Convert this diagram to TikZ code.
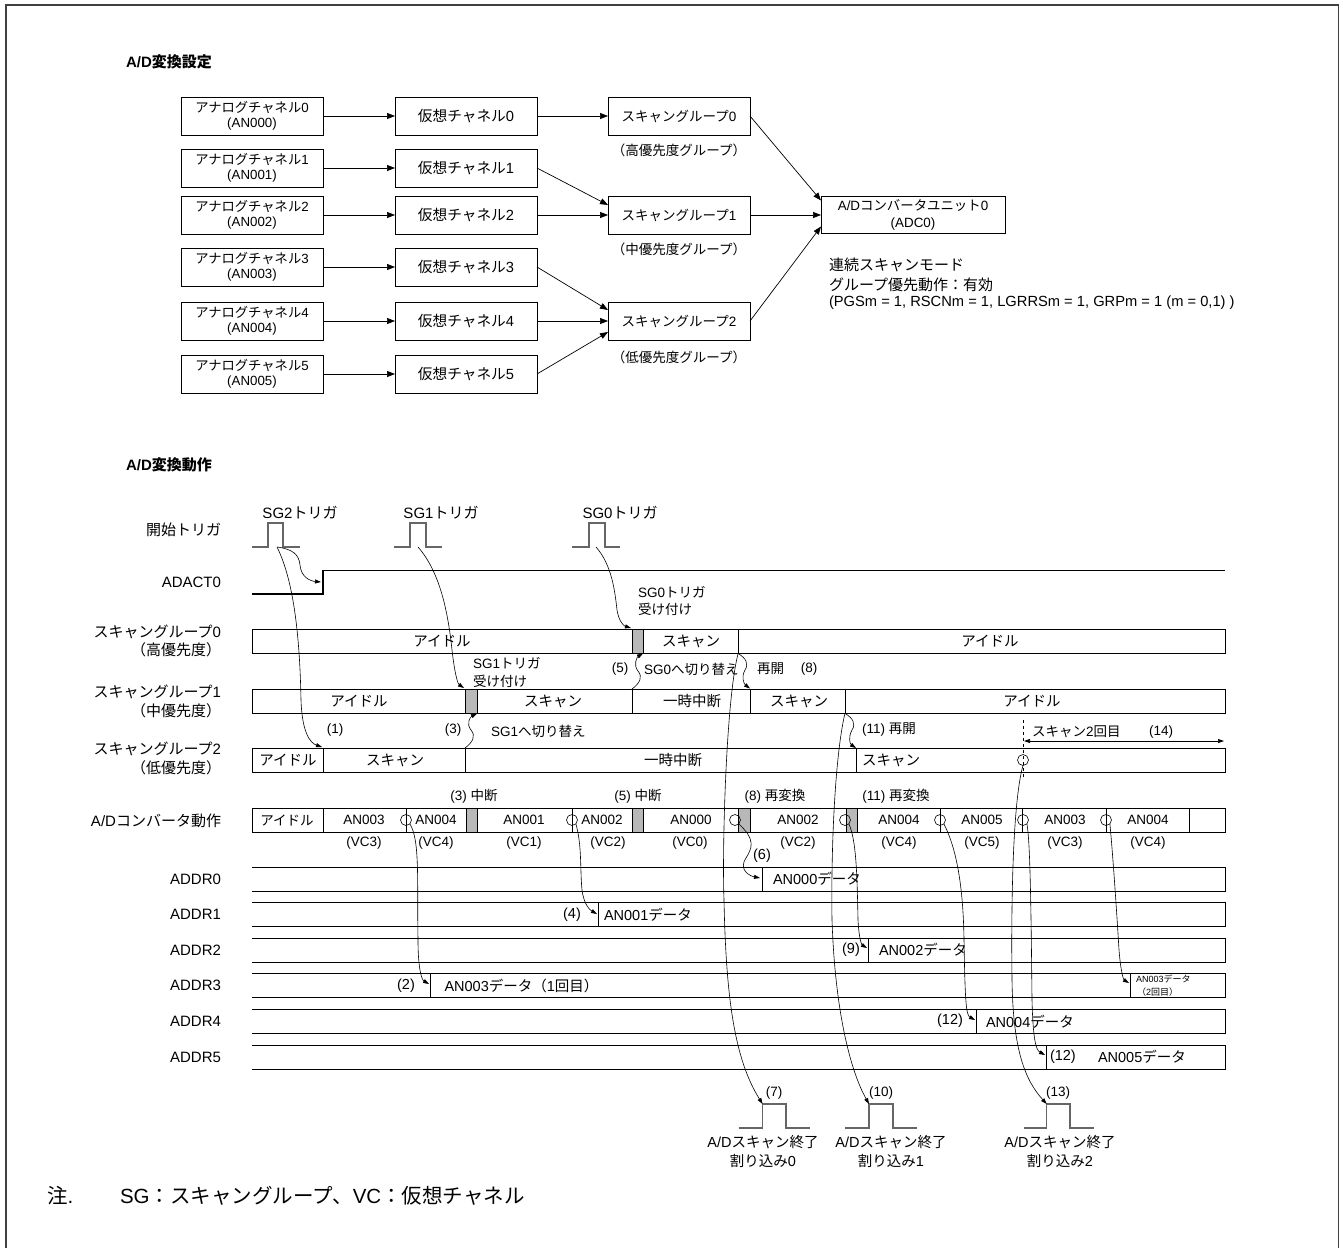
\documentclass[tikz,border=0pt]{standalone}
\usepackage{fontspec}
\setmainfont{Liberation Sans}
\newfontfamily\jpf{Noto Sans CJK JP}
\newXeTeXintercharclass\JPc
\makeatletter
\def\setjprange#1#2{\count@=#1\relax\loop\XeTeXcharclass\count@=\JPc\ifnum\count@<#2\advance\count@\@ne\repeat}
\makeatother
\setjprange{"3000}{"30FF}
\setjprange{"4E00}{"9FFF}
\setjprange{"FF00}{"FFEF}
\XeTeXinterchartoks 0 \JPc = {\jpf}
\XeTeXinterchartoks 4095 \JPc = {\jpf}
\XeTeXinterchartoks \JPc 0 = {\rmfamily}
\XeTeXinterchartoks \JPc 4095 = {\rmfamily}
\XeTeXinterchartokenstate=1
\usetikzlibrary{arrows.meta}
\newcommand\myfs[2]{\fontsize{#1}{#2}\selectfont}
\begin{document}
\begin{tikzpicture}[x=1pt,y=-1pt,
  every node/.style={inner sep=0pt, outer sep=0pt, font=\myfs{13.5}{16}},
  blk/.style={draw, line width=0.8pt, fill=white, minimum width=142pt, minimum height=38pt, align=center},
  arr/.style={line width=0.7pt, -{Triangle[length=8pt,width=6pt]}},
  sarr/.style={line width=0.6pt, -{Triangle[length=6pt,width=4pt]}},
  lbl/.style={anchor=east, font=\myfs{15}{17}},
  rtxt/.style={font=\myfs{14.5}{16}},
  atxt/.style={font=\myfs{13.5}{16}},
  dtx/.style={anchor=west, font=\myfs{14.5}{17}},
  lft/.style={anchor=west},
  wave/.style={line width=1pt},
  pls/.style={draw=black!60, line width=1.5pt},
  gblk/.style={draw, line width=0.8pt, fill=black!28},
  cir/.style={draw, circle, minimum size=11pt, line width=0.6pt},
]
\useasboundingbox (0,0) rectangle (1343,1247);
\draw[black!75, line width=1.8pt] (6,1250) -- (6,5) -- (1338.5,5) -- (1338.5,1250);

% ---------------- A/D setting ----------------
\node[lft, font=\bfseries\myfs{15}{17}] (title1) at (126,62) {A/D変換設定};
\foreach \i/\yy in {0/116,1/168,2/215,3/267,4/321,5/374} {
  \node[blk, font=\myfs{13.3}{15.5}] (a\i) at (252,\yy) {アナログチャネル\i\\(AN00\i)};
  \node[blk, font=\myfs{14.7}{17}] (v\i) at (466,\yy) {仮想チャネル\i};
  \draw[arr] (a\i) -- (v\i);
}
\node[blk] (s0) at (679,116) {スキャングループ0};
\node[blk] (s1) at (679,215) {スキャングループ1};
\node[blk] (s2) at (679,321) {スキャングループ2};
\node (g0) at (679,150) {（高優先度グループ）};
\node (g1) at (679,249) {（中優先度グループ）};
\node (g2) at (679,357) {（低優先度グループ）};
\node[blk, minimum width=184pt, minimum height=37pt, font=\myfs{13.4}{17}] (adc) at (913,214.5) {A/Dコンバータユニット0\\(ADC0)};
\draw[arr] (v0) -- (s0);
\draw[arr] (v1.east) -- ([yshift=10pt]s1.west);
\draw[arr] (v2) -- (s1);
\draw[arr] (v3.east) -- ([yshift=11pt]s2.west);
\draw[arr] (v4) -- (s2);
\draw[arr] (v5.east) -- ([yshift=-11pt]s2.west);
\draw[arr] (s0.east) -- ([yshift=14pt]adc.west);
\draw[arr] (s1.east) -- (s1.east -| adc.west);
\draw[arr] (s2.east) -- ([yshift=-12pt]adc.west);
\node[lft, font=\myfs{15}{17}] (m1) at (829,265) {連続スキャンモード};
\node[lft, font=\myfs{15}{17}] (m2) at (829,285) {グループ優先動作：有効};
\node[lft, font=\myfs{14.7}{17}] (m3) at (829,303) {(PGSm = 1, RSCNm = 1, LGRRSm = 1, GRPm = 1 (m = 0,1) )};

% ---------------- A/D operation ----------------
\node[lft, font=\bfseries\myfs{15}{17}] (title2) at (126,465) {A/D変換動作};

% left labels
\node[lbl] (l0) at (221,530) {開始トリガ};
\node[lbl] (l1) at (221,582) {ADACT0};
\node[lbl] (l2) at (221,632) {スキャングループ0};
\node[lbl] (l2b) at (221,650) {（高優先度）};
\node[lbl] (l3) at (221,692) {スキャングループ1};
\node[lbl] (l3b) at (221,711) {（中優先度）};
\node[lbl] (l4) at (221,749) {スキャングループ2};
\node[lbl] (l4b) at (221,768) {（低優先度）};
\node[lbl] (l5) at (221,821) {A/Dコンバータ動作};
\node[lbl] (r0) at (221,879) {ADDR0};
\node[lbl] (r1) at (221,914.6) {ADDR1};
\node[lbl] (r2) at (221,950.2) {ADDR2};
\node[lbl] (r3) at (221,985.8) {ADDR3};
\node[lbl] (r4) at (221,1021.4) {ADDR4};
\node[lbl] (r5) at (221,1057) {ADDR5};

% trigger pulses
\node[font=\myfs{15}{17}] (tg2) at (300,513) {SG2トリガ};
\node[font=\myfs{15}{17}] (tg1) at (441,513) {SG1トリガ};
\node[font=\myfs{15}{17}] (tg0) at (620,513) {SG0トリガ};
\draw[pls] (252,547) -- (268,547) -- (268,523) -- (283,523) -- (283,547) -- (300,547);
\draw[pls] (394,547) -- (410,547) -- (410,523) -- (426,523) -- (426,547) -- (442,547);
\draw[pls] (572,547) -- (589,547) -- (589,523) -- (605,523) -- (605,547) -- (620,547);

% ADACT0
\draw[line width=1.1pt] (252,594) -- (323,594) -- (323,570.5) -- (1225,570.5);

% scan group 0
\draw[wave] (252,629) rectangle (1225,653);
\draw[gblk] (632,629) rectangle (643,653);
\draw[wave] (738,629) -- (738,653);
\node[rtxt] (q0a) at (442,641) {アイドル};
\node[rtxt] (q0b) at (691,641) {スキャン};
\node[rtxt] (q0c) at (990,641) {アイドル};
% scan group 1
\draw[wave] (252,689) rectangle (1225,713);
\draw[gblk] (465,689) rectangle (477,713);
\draw[wave] (632,689) -- (632,713) (750,689) -- (750,713) (845,689) -- (845,713);
\node[rtxt] (q1a) at (359,701) {アイドル};
\node[rtxt] (q1b) at (553,701) {スキャン};
\node[rtxt] (q1c) at (692,701) {一時中断};
\node[rtxt] (q1d) at (799,701) {スキャン};
\node[rtxt] (q1e) at (1032,701) {アイドル};
% scan group 2
\draw[wave] (252,748) rectangle (1225,772);
\draw[wave] (323,748) -- (323,772) (465,748) -- (465,772) (856,748) -- (856,772);
\node[rtxt] (q2a) at (288,760) {アイドル};
\node[rtxt] (q2b) at (395,760) {スキャン};
\node[rtxt] (q2c) at (673,760) {一時中断};
\node[rtxt] (q2d) at (891,760) {スキャン};
\draw[dashed, line width=0.6pt] (1023,720) -- (1023,778);
\node[cir] (c14) at (1023,760) {};

% annotations in timing area
\node[lft, atxt] (n0a) at (638,592) {SG0トリガ};
\node[lft, atxt] (n0b) at (638,609) {受け付け};
\node[lft, atxt] (n1a) at (473,663) {SG1トリガ};
\node[lft, atxt] (n1b) at (473,681) {受け付け};
\node[atxt] (k5) at (620,669) {(5)};
\node[lft, atxt] (k5t) at (644,669) {SG0へ切り替え};
\node[lft, atxt] (k8t) at (757,669) {再開};
\node[atxt] (k8) at (809,669) {(8)};
\node[atxt] (k1) at (335,730) {(1)};
\node[atxt] (k3) at (453,730) {(3)};
\node[lft, atxt] (k3t) at (491,731) {SG1へ切り替え};
\node[lft, atxt] (k11) at (862,730) {(11) 再開};
\node[lft, atxt] (k14) at (1032,732) {スキャン2回目};
\node[atxt] (k14n) at (1161,732) {(14)};
\coordinate (d14a) at (1024,741);
\coordinate (d14b) at (1224,741);
\draw[line width=0.7pt, {Triangle[length=6pt,width=4pt]}-{Triangle[length=6pt,width=4pt]}] (d14a) -- (d14b);

% curves from triggers
\coordinate (p2) at (277,547);
\coordinate (p1) at (418,547);
\coordinate (p0) at (596,547);
\coordinate (adr) at (321,582);
\coordinate (sg2st) at (322,747);
\coordinate (sg1g) at (464,688);
\coordinate (sg0g) at (631,628);
\draw[sarr] (p2) .. controls (292,549) and (299,554) .. (300,565) .. controls (301,577) and (310,581) .. (adr);
\draw[sarr] (p2) .. controls (296,585) and (300,650) .. (301,700) .. controls (302,732) and (310,743) .. (sg2st);
\draw[sarr] (p1) .. controls (440,572) and (448,612) .. (452,650) .. controls (455,676) and (458,684) .. (sg1g);
\draw[sarr] (p0) .. controls (612,565) and (615,592) .. (617,610) .. controls (619,622) and (624,626) .. (sg0g);
% wavy switches
\draw[sarr] (465,748) .. controls (473,742) and (476,736) .. (471,730) .. controls (466,724) and (470,717) .. (477,713.5);
\draw[sarr] (632,689) .. controls (640,683) and (643,677) .. (638,671) .. controls (633,665) and (637,657) .. (643,653.5);
\draw[sarr] (738,653.5) .. controls (746,658) and (749,664) .. (745,670) .. controls (741,677) and (744,684) .. (750,688.5);
\draw[sarr] (845,713.5) .. controls (853,718) and (856,724) .. (852,730) .. controls (848,737) and (850,744) .. (856,748);

% A/D converter row
\node[atxt] (h3) at (474,796) {(3) 中断};
\node[atxt] (h5) at (638,796) {(5) 中断};
\node[atxt] (h8) at (775,796) {(8) 再変換};
\node[atxt] (h11) at (896,796) {(11) 再変換};
\draw[wave] (252,808) rectangle (1225,832);
\foreach \xx in {323,406,572,940,1022.5,1106,1189} {\draw[wave] (\xx,808) -- (\xx,832);}
\draw[gblk] (466,808) rectangle (477,832);
\draw[gblk] (632,808) rectangle (643,832);
\draw[gblk] (738.5,808) rectangle (750,832);
\draw[gblk] (846,808) rectangle (857,832);
\node[atxt] (b0) at (287,820) {アイドル};
\node[atxt] (b1) at (364,820) {AN003};
\node[atxt] (b2) at (436,820) {AN004};
\node[atxt] (b3) at (524,820) {AN001};
\node[atxt] (b4) at (602,820) {AN002};
\node[atxt] (b5) at (691,820) {AN000};
\node[atxt] (b6) at (798,820) {AN002};
\node[atxt] (b7) at (899,820) {AN004};
\node[atxt] (b8) at (982,820) {AN005};
\node[atxt] (b9) at (1065,820) {AN003};
\node[atxt] (b10) at (1148,820) {AN004};
\node[cir] (o1) at (406,820) {};
\node[cir] (o2) at (572,820) {};
\node[cir] (o3) at (735,820) {};
\node[cir] (o4) at (845,820) {};
\node[cir] (o5) at (940,820) {};
\node[cir] (o6) at (1023,820) {};
\node[cir] (o7) at (1106,820) {};
\node[atxt] (vc1) at (364,843) {(VC3)};
\node[atxt] (vc2) at (436,843) {(VC4)};
\node[atxt] (vc3) at (524,843) {(VC1)};
\node[atxt] (vc4) at (608,843) {(VC2)};
\node[atxt] (vc5) at (690,843) {(VC0)};
\node[atxt] (vc6) at (798,843) {(VC2)};
\node[atxt] (vc7) at (899,843) {(VC4)};
\node[atxt] (vc8) at (982,843) {(VC5)};
\node[atxt] (vc9) at (1065,843) {(VC3)};
\node[atxt] (vc10) at (1148,843) {(VC4)};

% ADDR rows
\foreach \tt in {867,902.6,938.2,973.8,1009.4,1045} {
  \draw[wave] (252,\tt) -- (1225,\tt) -- (1225,\tt+24) -- (252,\tt+24);
}
\draw[wave] (762,867) -- (762,891);
\draw[wave] (598,902.6) -- (598,926.6);
\draw[wave] (868,938.2) -- (868,962.2);
\draw[wave] (430.6,973.8) -- (430.6,997.8) (1130,973.8) -- (1130,997.8);
\draw[wave] (976,1009.4) -- (976,1033.4);
\draw[wave] (1046,1045) -- (1046,1069);
\node[dtx] (e0) at (773,879) {AN000データ};
\node[dtx] (e1) at (604,914.6) {AN001データ};
\node[dtx] (e2) at (879,950.2) {AN002データ};
\node[dtx] (e3) at (444.5,985.8) {AN003データ（1回目）};
\node[lft, font=\myfs{9}{11}] (e3b) at (1136,979) {AN003データ};
\node[lft, font=\myfs{9}{11}] (e3c) at (1137,992) {（2回目）};
\node[dtx] (e4) at (986,1021.4) {AN004データ};
\node[dtx] (e5n) at (1050,1057) {(12)};
\node[dtx] (e5) at (1098,1057) {AN005データ};
\node[rtxt] (j2) at (406,986) {(2)};
\node[rtxt] (j4) at (572,915) {(4)};
\node[rtxt] (j6) at (762,856) {(6)};
\node[rtxt] (j9) at (851,950) {(9)};
\node[rtxt] (j12) at (950,1021) {(12)};

% data arrows
\draw[sarr] (o1.south east) .. controls (420,840) and (417,880) .. (418,940) .. controls (418,970) and (422,980) .. (429,984);
\draw[sarr] (o2.south east) .. controls (582,845) and (580,870) .. (582,890) .. controls (584,905) and (590,910) .. (597,914);
\draw[sarr] (o3.south east) .. controls (756,840) and (752,848) .. (746,858) .. controls (738,870) and (750,876) .. (760,878);
\draw[sarr] (o4.south east) .. controls (856,840) and (857,870) .. (858,920) .. controls (859,940) and (862,945) .. (867,948);
\draw[sarr] (o5.south east) .. controls (952,840) and (963,870) .. (964,940) .. controls (965,1000) and (966,1015) .. (975,1020);
\draw[sarr] (o6.south east) .. controls (1030,840) and (1031,900) .. (1032,1000) .. controls (1033,1040) and (1036,1050) .. (1045,1055);
\draw[sarr] (o7.south east) .. controls (1112,845) and (1116,900) .. (1119,950) .. controls (1121,975) and (1124,980) .. (1129,983);

% interrupts
\draw[pls] (738.5,1128) -- (762.6,1128) -- (762.6,1104) -- (786,1104) -- (786,1128) -- (810,1128);
\draw[pls] (845,1128) -- (869,1128) -- (869,1104) -- (893,1104) -- (893,1128) -- (917,1128);
\draw[pls] (1023.7,1128) -- (1046.7,1128) -- (1046.7,1104) -- (1070,1104) -- (1070,1128) -- (1094,1128);
\coordinate (i0) at (762.6,1104);
\coordinate (i1) at (869,1104);
\coordinate (i2) at (1046.7,1104);
\coordinate (sg0end) at (738,654);
\coordinate (sg1end) at (845,713);
\draw[sarr] (sg0end) .. controls (726,700) and (722,850) .. (724,900) .. controls (726,1000) and (735,1060) .. (i0);
\draw[sarr] (sg1end) .. controls (834,760) and (831,860) .. (832,920) .. controls (835,1010) and (850,1070) .. (i1);
\draw[sarr] (c14.south) .. controls (1013,800) and (1011,900) .. (1012,980) .. controls (1013,1050) and (1025,1080) .. (i2);
\node[atxt] (u0) at (774,1093) {(7)};
\node[atxt] (u1) at (881,1093) {(10)};
\node[atxt] (u2) at (1058,1093) {(13)};
\node[align=center, font=\myfs{14.5}{19}] (w0) at (763,1151) {A/Dスキャン終了\\割り込み0};
\node[align=center, font=\myfs{14.5}{19}] (w1) at (891,1151) {A/Dスキャン終了\\割り込み1};
\node[align=center, font=\myfs{14.5}{19}] (w2) at (1060,1151) {A/Dスキャン終了\\割り込み2};

% note
\node[lft, font=\myfs{20.5}{23}] (nt0) at (47,1196) {注.};
\node[lft, font=\myfs{20.5}{23}] (nt1) at (120,1196) {SG：スキャングループ、VC：仮想チャネル};
\end{tikzpicture}
\end{document}
